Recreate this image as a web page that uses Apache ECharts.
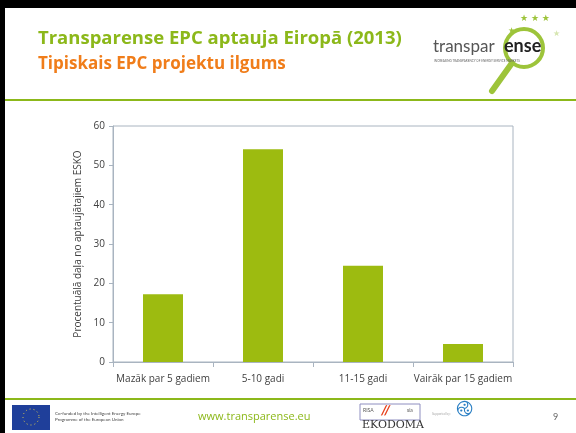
<!DOCTYPE html>
<html lang="lv">
<head>
<meta charset="UTF-8">
<script src="https://cdn.jsdelivr.net/npm/echarts@6/dist/echarts.min.js"></script>
<style>
  html, body { margin: 0; padding: 0; background: #fff; }
  #container { width: 576px; height: 433px; }
</style>
</head>
<body>
<div id="container"></div>
<script>
  var categories = ['Mazāk par 5 gadiem', '5-10 gadi', '11-15 gadi', 'Vairāk par 15 gadiem'];
  var values = [17.2, 54.1, 24.5, 4.6];
  var yTicks = [0, 10, 20, 30, 40, 50, 60];

  var green = '#8cb81a';
  var orange = '#f07d1a';

  var myChart = echarts.init(document.getElementById('container'));

  var option = {
    backgroundColor: '#fff',
    animation: false,
    grid: {
      left: 113, right: 63, top: 126, bottom: 71,
      show: true, borderColor: '#a9b4c0', borderWidth: 1
    },
    xAxis: {
      type: 'category',
      data: categories,
      axisLine: { lineStyle: { color: '#a9b4c0' } },
      axisTick: { show: true, length: 5, lineStyle: { color: '#a9b4c0' } },
      axisLabel: { interval: 0, color: '#404040', fontFamily: 'Open Sans', fontSize: 10, margin: 12 }
    },
    yAxis: {
      type: 'value',
      min: yTicks[0], max: yTicks[yTicks.length - 1], interval: 10,
      name: 'Procentuālā daļa no aptaujātajiem ESKO',
      nameLocation: 'middle',
      nameGap: 30,
      nameTextStyle: { color: '#404040', fontFamily: 'Open Sans', fontSize: 10 },
      axisLine: { show: true, lineStyle: { color: '#a9b4c0' } },
      axisTick: { show: true, length: 4, lineStyle: { color: '#a9b4c0' } },
      splitLine: { show: false },
      axisLabel: { color: '#404040', fontFamily: 'Open Sans', fontSize: 10, margin: 8 }
    },
    series: [{
      type: 'bar',
      data: values,
      barWidth: '40%',
      itemStyle: { color: '#9dbb10' }
    }],
    graphic: [
      // black frame edges
      { type: 'rect', shape: { x: 0, y: 0, width: 576, height: 8 }, style: { fill: '#000' } },
      { type: 'rect', shape: { x: 0, y: 0, width: 5, height: 433 }, style: { fill: '#000' } },
      // titles
      { type: 'text', left: 38, top: 29, style: { text: 'Transparense EPC aptauja Eiropā (2013)', fill: green, font: 'bold 18.5px "Open Sans"' } },
      { type: 'text', left: 38, top: 56, style: { text: 'Tipiskais EPC projektu ilgums', fill: orange, font: 'bold 17px "Open Sans"' } },
      // separators
      { type: 'rect', shape: { x: 5, y: 99, width: 571, height: 2 }, style: { fill: green } },
      { type: 'rect', shape: { x: 5, y: 398, width: 571, height: 2 }, style: { fill: green } },
      // logo
      { type: 'text', left: 433, top: 38, style: { text: 'transpar', fill: '#555', font: '17px Lato' } },
      { type: 'circle', shape: { cx: 524, cy: 48, r: 19 }, style: { fill: 'rgba(255,255,255,0)', stroke: '#9dc43a', lineWidth: 4 } },
      { type: 'line', shape: { x1: 512, y1: 63, x2: 492, y2: 91 }, style: { stroke: '#9dc43a', lineWidth: 6, lineCap: 'round' } },
      { type: 'text', left: 504, top: 37, style: { text: 'ense', fill: '#222', font: 'bold 18px Lato' } },
      { type: 'text', left: 434, top: 60, style: { text: 'INCREASING TRANSPARENCY OF ENERGY SERVICE MARKETS', fill: '#666', font: '3px Lato' } },
      { type: 'text', left: 520, top: 14, style: { text: '★ ★ ★', fill: '#9dc43a', font: '9px DejaVu Sans' } },
      { type: 'text', left: 508, top: 27, style: { text: '★', fill: '#9dc43a', font: '8px DejaVu Sans' } },
      { type: 'text', left: 553, top: 30, style: { text: '★', fill: '#d6e6b0', font: '8px DejaVu Sans' } },
      // footer: EU flag
      { type: 'rect', shape: { x: 12, y: 405, width: 38, height: 25 }, style: { fill: '#1f3f9a' } },
      { type: 'circle', shape: { cx: 31, cy: 417, r: 8 }, style: { fill: 'none', stroke: '#e8d44a', lineWidth: 1, lineDash: [1, 3] } },
      { type: 'text', left: 55, top: 411, style: { text: 'Co-funded by the Intelligent Energy Europe\nProgramme of the European Union', fill: '#444', font: '4.5px Lato', lineHeight: 6 } },
      { type: 'text', left: 198, top: 411, style: { text: 'www.transparense.eu', fill: green, font: '11px "Open Sans"' } },
      // EKODOMA logo
      { type: 'rect', shape: { x: 360, y: 404, width: 60, height: 16 }, style: { fill: '#fff', stroke: '#8e8ec0', lineWidth: 1 } },
      { type: 'text', left: 363, top: 408, style: { text: 'RISA', fill: '#555', font: '5px Lato' } },
      { type: 'text', left: 381, top: 403, style: { text: '//', fill: '#e8421d', font: 'bold italic 14px Lato' } },
      { type: 'text', left: 407, top: 408, style: { text: 'sia', fill: '#555', font: '5px Lato' } },
      { type: 'text', left: 362, top: 420, style: { text: 'EKODOMA', fill: '#333', font: '11px "DejaVu Serif"' } },
      { type: 'text', left: 432, top: 413, style: { text: 'Supported by:', fill: '#aaa', font: '3px Lato' } },
      { type: 'text', left: 456, top: 399, style: { text: '࿋', fill: '#2a7fc4', font: '22px DejaVu Sans' } },
      { type: 'text', left: 553, top: 413, style: { text: '9', fill: '#666', font: '9px Lato' } }
    ]
  };

  myChart.setOption(option);
</script>
</body>
</html>
